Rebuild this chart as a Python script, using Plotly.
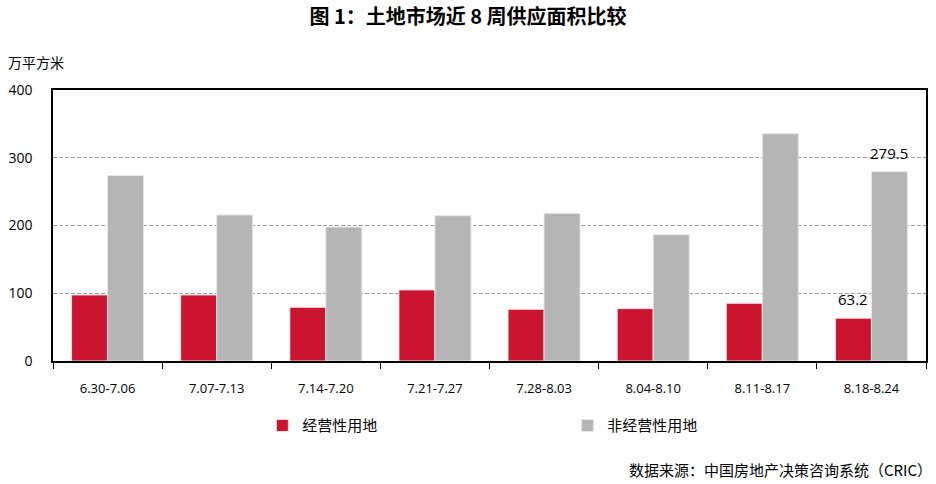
import plotly.graph_objects as go

categories = ["6.30-7.06", "7.07-7.13", "7.14-7.20", "7.21-7.27", "7.28-8.03", "8.04-8.10", "8.11-8.17", "8.18-8.24"]
commercial = [97.5, 97.5, 79.3, 104.9, 76.3, 77.3, 85.2, 63.2]
noncommercial = [273.8, 215.6, 197.8, 214.5, 218.0, 186.4, 335.6, 279.5]
labelled_index = 7  # only the latest week is labelled

FONT = "Noto Sans CJK SC, Open Sans, sans-serif"
NUMFONT = "Open Sans, sans-serif"

fig = go.Figure()
fig.add_trace(go.Bar(
    x=categories, y=commercial, name="经营性用地",
    marker=dict(color="#CB142F", line=dict(color="#f0dede", width=1)),
))
fig.add_trace(go.Bar(
    x=categories, y=noncommercial, name="非经营性用地",
    marker=dict(color="#B5B5B5", line=dict(color="#e6e6e6", width=1)),
))

annotations = [
    dict(text="万平方米", xref="paper", yref="paper", x=-0.054, y=1.103,
         xanchor="left", yanchor="middle", showarrow=False, font=dict(size=14, family=FONT)),
    dict(text="数据来源：中国房地产决策咨询系统（CRIC）", xref="paper", yref="paper",
         x=1.009, y=-0.402, xanchor="right", yanchor="middle", showarrow=False,
         font=dict(size=15, family=FONT)),
]
for vals, xs in ((commercial, -18), (noncommercial, 18)):
    v = vals[labelled_index]
    annotations.append(dict(
        text=f"{v:.1f}", x=categories[labelled_index], y=v, xref="x", yref="y",
        xanchor="center", yanchor="bottom", xshift=xs, yshift=7, showarrow=False,
        font=dict(size=15, family=NUMFONT, color="#000000")))

fig.update_layout(
    width=936, height=484,
    margin=dict(l=50, r=8, t=90, b=123),
    paper_bgcolor="white", plot_bgcolor="white",
    font=dict(family=FONT, color="#000000", size=13),
    barmode="group", bargap=0.34, bargroupgap=0,
    showlegend=True,
    legend=dict(orientation="h", x=0.2398, y=-0.178, xanchor="left", yanchor="top",
                entrywidth=260, entrywidthmode="pixels",
                font=dict(size=15, family=FONT), itemwidth=30),
    title=dict(text="<b>图 1：土地市场近 8 周供应面积比较</b>", x=0.5, xanchor="center",
               y=0.965, yanchor="middle", font=dict(size=20, family=FONT)),
    annotations=annotations,
)
fig.update_xaxes(showline=True, linecolor="#000000", linewidth=1.5, mirror=True,
                 ticks="outside", tickson="boundaries", ticklen=6, tickcolor="#000000",
                 ticklabelstandoff=15,
                 tickfont=dict(size=13, family=NUMFONT), showgrid=False)
fig.update_yaxes(range=[0, 400], dtick=100, showline=True, linecolor="#000000", linewidth=1.5,
                 mirror=True, ticks="", showgrid=True, gridcolor="#a0a0a0", griddash="4px,2px",
                 gridwidth=1, zeroline=False, ticklabelstandoff=16,
                 tickfont=dict(size=14, family=NUMFONT))

fig.write_html("out.html", config={"displayModeBar": False},
               post_script="document.body.style.margin='0';document.body.style.overflow='hidden';")
